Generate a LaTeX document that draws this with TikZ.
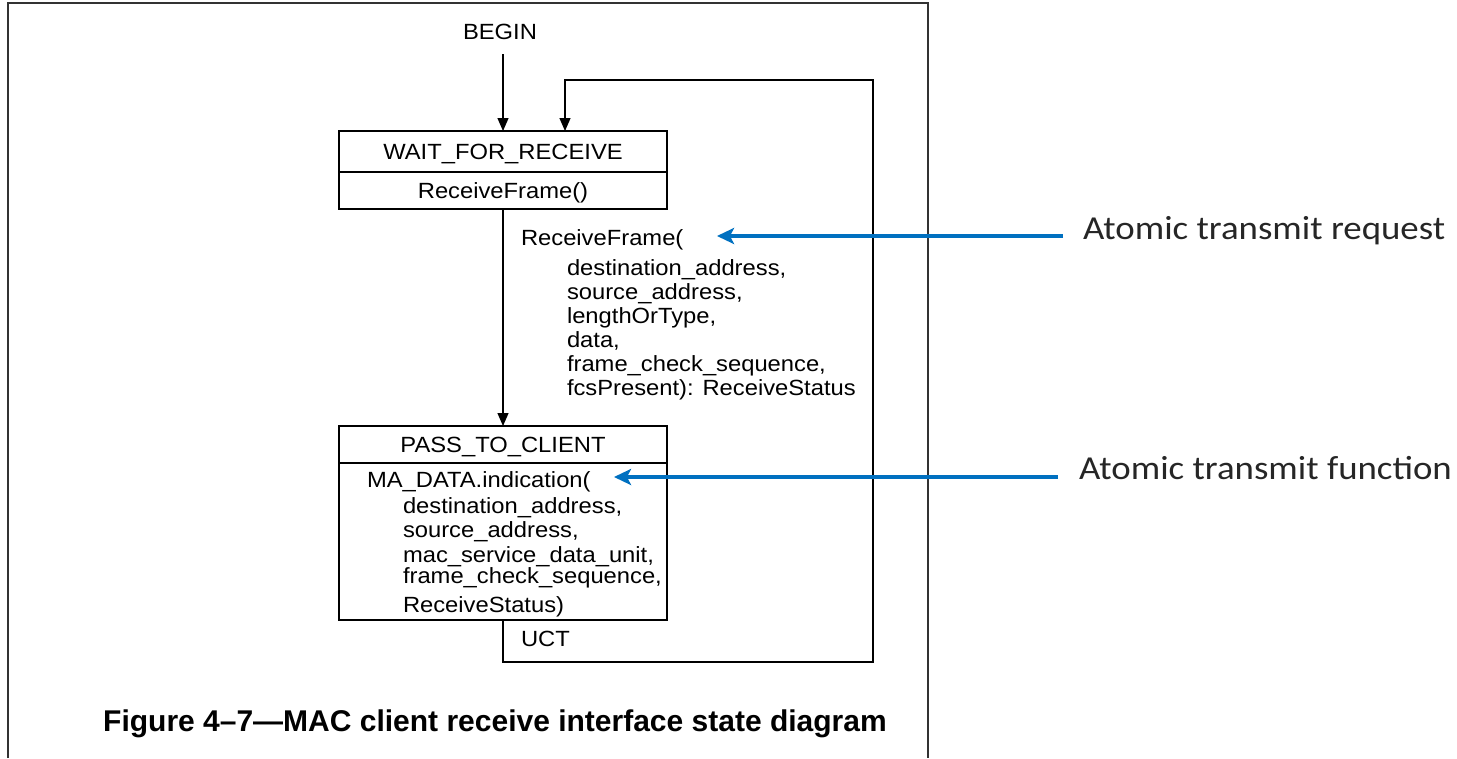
\documentclass[tikz,border=0pt]{standalone}
\usepackage{fontspec}
\setmainfont{Liberation Sans}[FakeStretch=1.08]
\newfontfamily\capfont{Liberation Sans}
\newfontfamily\notefont{Carlito}[FakeStretch=1.1]
\usetikzlibrary{arrows.meta}
\definecolor{noteblue}{RGB}{0,112,192}
\definecolor{framegray}{RGB}{50,50,50}
\begin{document}
\begin{tikzpicture}[x=1pt,y=-1pt,
  every node/.style={inner sep=0pt, outer sep=0pt},
  dtext/.style={font=\fontsize{22}{24}\selectfont},
  sbox/.style={draw, line width=1.3pt, minimum width=328pt, text height=15.8pt, text depth=0pt},
  flow/.style={line width=1.3pt},
  arr/.style={flow, -{Triangle[length=13pt,width=11pt]}},
  note/.style={font=\notefont\fontsize{33.5}{36}\selectfont, text=black!85},
  notearr/.style={draw=noteblue, line width=4pt, -{Stealth[length=17pt,width=16pt,inset=4pt]}},
]
\useasboundingbox (0,0) rectangle (1457,758);
% page frame
\draw[framegray, line width=2pt] (8,758) -- (8,3) -- (928,3) -- (928,758);

% states
\node[sbox, dtext, minimum height=41pt] (w1) at (503,151.5) {WAIT\_FOR\_RECEIVE};
\node[sbox, dtext, minimum height=37pt, anchor=north] (w2) at (w1.south) {ReceiveFrame()};
\node[sbox, dtext, minimum height=37pt, anchor=north] (p1) at (503,426) {PASS\_TO\_CLIENT};
\node[sbox, minimum height=157pt, text height=0pt, anchor=north] (p2) at (p1.south) {};

\node[dtext, anchor=base west] (ma) at (367,487) {\begin{tabular}[t]{@{}l@{}}MA\_DATA.indication(\\[2pt]
\hspace*{36pt}destination\_address,\\
\hspace*{36pt}source\_address,\\[1pt]
\hspace*{36pt}mac\_service\_data\_unit,\\[-3pt]
\hspace*{36pt}frame\_check\_sequence,\\[5pt]
\hspace*{36pt}ReceiveStatus)\end{tabular}};

% entry
\node[dtext, anchor=base] (begin) at (500,39) {BEGIN};
\draw[arr, shorten <=15pt] (begin.south -| w1.north) -- (w1.north);

% transition WAIT -> PASS
\draw[arr] (w2.south) -- (p1.north);
\node[dtext, anchor=base west] (rf) at (521,245) {\begin{tabular}[t]{@{}l@{}}ReceiveFrame(\\[6pt]
\hspace*{46pt}destination\_address,\\
\hspace*{46pt}source\_address,\\
\hspace*{46pt}lengthOrType,\\
\hspace*{46pt}data,\\
\hspace*{46pt}frame\_check\_sequence,\\
\hspace*{46pt}fcsPresent): ReceiveStatus\end{tabular}};

% transition PASS -> WAIT (UCT)
\coordinate (lb) at (503,662);
\coordinate (rb) at (873,662);
\coordinate (rt) at (873,80);
\coordinate (lt) at (565,80);
\draw[arr] (p2.south) -- (lb) -- (rb) -- (rt) -- (lt) -- (lt |- w1.north);
\node[dtext, anchor=base west] (uct) at (521,646) {UCT};

% caption
\node[font=\capfont\bfseries\fontsize{30}{32}\selectfont, anchor=base] (cap) at (495,731) {Figure 4–7—MAC client receive interface state diagram};

% annotations
\node[note, anchor=base west] (req) at (1083,239) {Atomic transmit request};
\coordinate (reqtip) at (717,236);
\draw[notearr, shorten <=20pt] (req.west |- reqtip) -- (reqtip);

\node[note, anchor=base west] (fn) at (1079,479) {Atomic transmit function};
\coordinate (fntip) at (614,477);
\draw[notearr, shorten <=21pt] (fn.west |- fntip) -- (fntip);
\end{tikzpicture}
\end{document}
